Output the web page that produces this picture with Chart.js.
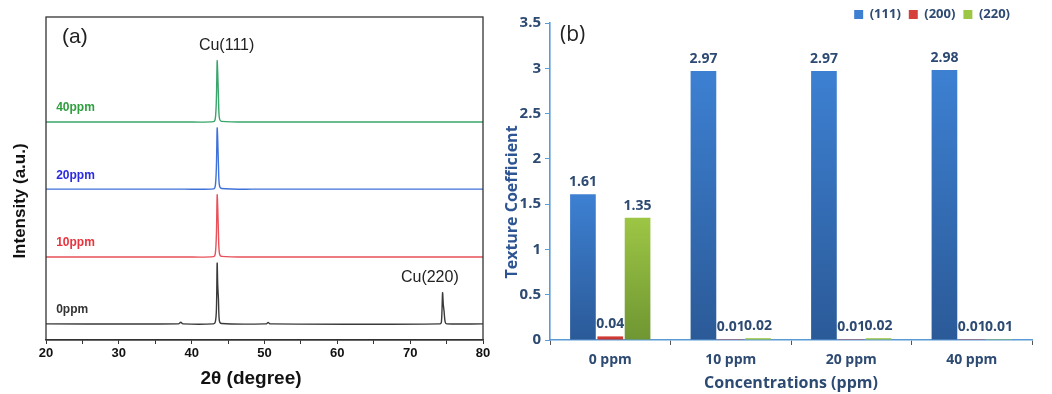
<!DOCTYPE html>
<html lang="en">
<head>
<meta charset="UTF-8">
<title>XRD and texture coefficient</title>
<script src="https://cdn.jsdelivr.net/npm/chart.js"></script>
<style>
    body { margin: 0; background: #fff; }
    .wrap { position: relative; width: 1052px; height: 394px; }
    #chartA { position: absolute; left: 0; top: 0; }
    #chartB { position: absolute; left: 500px; top: 0; }
</style>
</head>
<body>
<div class="wrap">
    <canvas id="chartA" width="500" height="394"></canvas>
    <canvas id="chartB" width="552" height="394"></canvas>
</div>
<script>
    // ---------- (a) XRD patterns, stacked ----------
    const twoTheta = [20, 38.2, 38.5, 38.8, 43.0, 43.25, 43.4, 43.5, 43.58, 43.68, 43.8, 44.1, 50.2, 50.5, 50.8, 74.1, 74.3, 74.45, 74.55, 74.65, 74.8, 75.0, 80];
    const xrd0ppm  = [5.0, 5.0, 5.5, 5.0, 5.0, 5.6, 9.5, 23.8, 17.0, 12.5, 6.0, 5.1, 5.0, 5.4, 5.0, 5.0, 5.8, 14.6, 11.0, 9.0, 5.6, 5.0, 5.0];
    const xrd10ppm = [25.7, 25.7, 25.7, 25.7, 25.8, 26.8, 33.0, 44.9, 41.0, 33.0, 27.0, 25.9, 25.7, 25.7, 25.7, 25.7, 25.7, 25.7, 25.7, 25.7, 25.7, 25.7, 25.7];
    const xrd20ppm = [46.7, 46.7, 46.7, 46.7, 46.8, 47.8, 54.0, 65.6, 62.0, 54.0, 48.0, 46.9, 46.7, 46.7, 46.7, 46.7, 46.7, 46.7, 46.7, 46.7, 46.7, 46.7, 46.7];
    const xrd40ppm = [67.5, 67.5, 67.5, 67.5, 67.6, 68.6, 75.0, 86.4, 82.5, 75.0, 68.8, 67.7, 67.5, 67.5, 67.5, 67.5, 67.5, 67.5, 67.5, 67.5, 67.5, 67.5, 67.5];
    const xrdNames = ['0ppm', '10ppm', '20ppm', '40ppm'];
    const xrdLineColors = ['#3a3a3a', '#e8505a', '#3f72d8', '#3aa56a'];
    const xrdTextColors = ['#333333', '#e8323c', '#2a2ae0', '#2e9e3e'];

    // ---------- (b) texture coefficient ----------
    const concentrations = ['0 ppm', '10 ppm', '20 ppm', '40 ppm'];
    const tc111 = [1.61, 2.97, 2.97, 2.98];
    const tc200 = [0.04, 0.01, 0.01, 0.01];
    const tc220 = [1.35, 0.02, 0.02, 0.01];
    const planeNames = ['(111)', '(200)', '(220)'];
    const yTicksB = [0, 0.5, 1, 1.5, 2, 2.5, 3, 3.5];

    function toPoints(ys) {
        return ys.map((y, i) => ({x: twoTheta[i], y: y}));
    }

    const fontA = '"Liberation Sans", Arial, sans-serif';

    const frameBox = {
        id: 'frameBox',
        afterDraw(chart) {
            const {ctx, chartArea: a} = chart;
            ctx.save();
            ctx.strokeStyle = '#333';
            ctx.lineWidth = 1.3;
            ctx.strokeRect(a.left, a.top, a.right - a.left, a.bottom - a.top);
            ctx.restore();
        }
    };

    const xrdText = {
        id: 'xrdText',
        afterDatasetsDraw(chart) {
            const {ctx, scales: {x, y}} = chart;
            ctx.save();
            ctx.textBaseline = 'middle';
            ctx.font = 'bold 12px ' + fontA;
            const series = [xrd0ppm, xrd10ppm, xrd20ppm, xrd40ppm];
            series.forEach((s, i) => {
                ctx.fillStyle = xrdTextColors[i];
                ctx.textAlign = 'left';
                ctx.fillText(xrdNames[i], x.getPixelForValue(21.4), y.getPixelForValue(s[0] + 4.3));
            });
            ctx.fillStyle = '#222';
            ctx.font = '16px ' + fontA;
            ctx.textAlign = 'center';
            ctx.fillText('Cu(111)', x.getPixelForValue(44.8), y.getPixelForValue(91));
            ctx.fillText('Cu(220)', x.getPixelForValue(72.7), y.getPixelForValue(19.2));
            ctx.font = '21px ' + fontA;
            ctx.textAlign = 'left';
            ctx.fillText('(a)', x.getPixelForValue(22.2), y.getPixelForValue(93.8));

            // axis titles
            ctx.fillStyle = '#111';
            ctx.font = 'bold 19px ' + fontA;
            ctx.textAlign = 'center';
            ctx.fillText('2θ (degree)', 251, 379);
            ctx.translate(20, 201);
            ctx.rotate(-Math.PI / 2);
            ctx.font = 'bold 17px ' + fontA;
            ctx.fillText('Intensity (a.u.)', 0, 0);
            ctx.restore();
        }
    };

    new Chart(document.getElementById('chartA'), {
        type: 'line',
        data: {
            datasets: [xrd0ppm, xrd10ppm, xrd20ppm, xrd40ppm].map((s, i) => ({
                label: xrdNames[i],
                data: toPoints(s),
                borderColor: xrdLineColors[i],
                borderWidth: 1.4,
                pointRadius: 0,
                tension: 0.3,
                fill: false
            }))
        },
        options: {
            responsive: false,
            animation: false,
            devicePixelRatio: 1,
            layout: {padding: {left: 0, right: 17, top: 17, bottom: 0}},
            plugins: {legend: {display: false}, tooltip: {enabled: false}},
            scales: {
                x: {
                    type: 'linear',
                    min: 20, max: 80,
                    afterFit(s) { s.height = 54; },
                    ticks: {
                        stepSize: 5,
                        autoSkip: false,
                        maxRotation: 0,
                        padding: 2,
                        color: '#111',
                        font: {family: fontA, size: 13, weight: 'bold'},
                        callback: v => (v % 10 === 0 ? v : '')
                    },
                    grid: {drawOnChartArea: false, tickLength: 4, tickColor: '#333'},
                    border: {color: '#333', width: 1.3}
                },
                y: {
                    min: 0, max: 100,
                    afterFit(s) { s.width = 46; },
                    ticks: {display: false},
                    grid: {display: false},
                    border: {display: false}
                }
            }
        },
        plugins: [frameBox, xrdText]
    });

    // ---------- chart (b) ----------
    const navy = '#2d4a72';
    const fontB = '"Open Sans", "Noto Sans", sans-serif';

    function barFill(light, dark) {
        return function (c) {
            const chart = c.chart;
            if (c.type !== 'data' || !chart.chartArea) return light;
            const yS = chart.scales.y;
            const top = yS.getPixelForValue(c.raw);
            const bottom = yS.getPixelForValue(0);
            if (bottom - top < 2) return light;
            const g = chart.ctx.createLinearGradient(0, top, 0, bottom);
            g.addColorStop(0, light);
            g.addColorStop(1, dark);
            return g;
        };
    }

    const shiftLegend = {
        id: 'shiftLegend',
        beforeDraw(chart) {
            if (chart.legend && !chart.legend._shifted) {
                chart.legend.left -= 14;
                chart.legend.right -= 14;
                chart.legend._shifted = true;
            }
        }
    };

    const barValues = {
        id: 'barValues',
        afterDatasetsDraw(chart) {
            const {ctx} = chart;
            ctx.save();
            ctx.font = 'bold 14px ' + fontB;
            ctx.fillStyle = navy;
            ctx.textAlign = 'center';
            ctx.textBaseline = 'bottom';
            chart.data.datasets.forEach((ds, di) => {
                chart.getDatasetMeta(di).data.forEach((bar, i) => {
                    ctx.fillText(ds.data[i].toFixed(2), bar.x, bar.y - 5);
                });
            });
            ctx.font = '21px ' + fontB;
            ctx.fillStyle = '#222';
            ctx.textAlign = 'left';
            ctx.textBaseline = 'middle';
            ctx.fillText('(b)', chart.chartArea.left + 10, 35);

            // y axis title
            ctx.translate(12, 202);
            ctx.rotate(-Math.PI / 2);
            ctx.textAlign = 'center';
            ctx.fillStyle = '#2e5593';
            ctx.font = 'bold 16px ' + fontB;
            ctx.fillText('Texture Coefficient', 0, 0);
            ctx.restore();
        }
    };

    new Chart(document.getElementById('chartB'), {
        type: 'bar',
        data: {
            labels: concentrations,
            datasets: [
                {label: planeNames[0], data: tc111, backgroundColor: barFill('#3d80d2', '#2b5a98')},
                {label: planeNames[1], data: tc200, backgroundColor: barFill('#d6403a', '#c0302c')},
                {label: planeNames[2], data: tc220, backgroundColor: barFill('#9dc645', '#6f9632')}
            ]
        },
        options: {
            responsive: false,
            animation: false,
            devicePixelRatio: 1,
            categoryPercentage: 0.68,
            barPercentage: 0.94,
            layout: {padding: {left: 0, right: 20, top: 0, bottom: 0}},
            plugins: {
                tooltip: {enabled: false},
                legend: {
                    position: 'top',
                    align: 'end',
                    maxHeight: 23,
                    labels: {
                        boxWidth: 9,
                        boxHeight: 9,
                        padding: 8,
                        color: navy,
                        font: {family: fontB, size: 13, weight: 'bold'}
                    }
                }
            },
            scales: {
                x: {
                    afterFit(s) { s.height = 54; },
                    ticks: {
                        padding: 7,
                        color: navy,
                        font: {family: fontB, size: 14, weight: 'bold'}
                    },
                    grid: {drawOnChartArea: false, tickLength: 5, tickColor: '#555'},
                    border: {color: '#5b9bd5', width: 1.6},
                    title: {
                        display: true,
                        text: 'Concentrations (ppm)',
                        color: navy,
                        font: {family: fontB, size: 16, weight: 'bold'},
                        padding: {top: 0, bottom: 1}
                    }
                },
                y: {
                    min: 0, max: 3.5,
                    afterFit(s) { s.width = 50; },
                    afterBuildTicks(s) { s.ticks = yTicksB.map(v => ({value: v})); },
                    ticks: {
                        padding: 4,
                        color: navy,
                        font: {family: fontB, size: 15, weight: 'bold'},
                        callback: v => String(v)
                    },
                    grid: {drawOnChartArea: false, tickLength: 5, tickColor: '#5b9bd5'},
                    border: {color: '#5b9bd5', width: 1.6}
                }
            }
        },
        plugins: [shiftLegend, barValues]
    });
</script>
</body>
</html>
